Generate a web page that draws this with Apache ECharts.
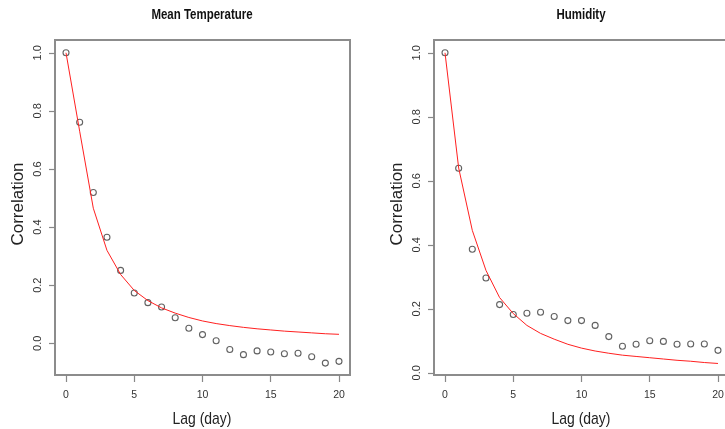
<!DOCTYPE html>
<html>
<head>
<meta charset="utf-8">
<script src="https://cdn.jsdelivr.net/npm/echarts@6/dist/echarts.min.js"></script>
<style>html,body{margin:0;padding:0;background:#fff;}#c{width:725px;height:429px;}</style>
</head>
<body>
<div id="c"></div>
<script>
const lags = [0,1,2,3,4,5,6,7,8,9,10,11,12,13,14,15,16,17,18,19,20];
const tempObserved = [1.0,0.761,0.519,0.365,0.251,0.173,0.140,0.125,0.088,0.052,0.030,0.009,-0.021,-0.039,-0.026,-0.030,-0.036,-0.034,-0.046,-0.068,-0.062];
const tempFitted = [1.0,0.73,0.465,0.32,0.237,0.182,0.147,0.122,0.104,0.089,0.077,0.068,0.061,0.055,0.050,0.046,0.042,0.039,0.036,0.033,0.031];
const humObserved = [1.0,0.639,0.386,0.296,0.213,0.182,0.186,0.189,0.176,0.163,0.163,0.148,0.113,0.083,0.089,0.100,0.098,0.089,0.090,0.090,0.070];
const humFitted = [1.0,0.64,0.445,0.32,0.235,0.185,0.148,0.123,0.105,0.089,0.077,0.068,0.061,0.055,0.051,0.047,0.043,0.039,0.036,0.032,0.029];
const xTicks = [0,5,10,15,20];
const yTicks = [0,0.2,0.4,0.6,0.8,1.0];
const titles = ['Mean Temperature','Humidity'];
const xName = 'Lag (day)';
const yName = 'Correlation';

const pair = (xs, ys) => xs.map((x,i)=>[x, ys[i]]);
const boxColor = '#8c8c8c';
const labelColor = '#333';
const font = 'Liberation Sans, Arial, sans-serif';

function xAxis(gi){
  return {
    type:'value', gridIndex:gi, min:-0.807, max:20.807,
    axisLine:{show:true, onZero:false, lineStyle:{color:boxColor, width:2}},
    axisTick:{show:true, customValues:xTicks, length:7, lineStyle:{color:'#888', width:1.2}},
    axisLabel:{customValues:xTicks, fontSize:10.5, color:labelColor, fontFamily:font, margin:15},
    splitLine:{show:false}
  };
}
function yAxis(gi, mn, mx){
  return {
    type:'value', gridIndex:gi, min:mn, max:mx,
    axisLine:{show:true, onZero:false, lineStyle:{color:boxColor, width:2}},
    axisTick:{show:true, customValues:yTicks, length:6, lineStyle:{color:'#888', width:1.2}},
    axisLabel:{customValues:yTicks, rotate:90, fontSize:11, color:labelColor, fontFamily:font, margin:12,
      formatter:v=>v.toFixed(1)},
    splitLine:{show:false}
  };
}
function scatter(gi, data){
  return {type:'scatter', xAxisIndex:gi, yAxisIndex:gi, data:data, symbol:'circle', symbolSize:6,
    itemStyle:{color:'rgba(0,0,0,0)', borderColor:'#3a3a3a', borderWidth:1.1}, z:2};
}
function line(gi, data){
  return {type:'line', xAxisIndex:gi, yAxisIndex:gi, data:data, showSymbol:false, symbol:'none',
    lineStyle:{color:'#ff2020', width:1}, z:3};
}
function squeezedText(text, cx, cy, size, weight, color){
  return {type:'group', x:cx, y:cy, scaleX:0.82, children:[
    {type:'text', x:0, y:0, style:{text:text, font:weight+' '+size+'px Liberation Sans, Arial, sans-serif', fill:color, align:'center', verticalAlign:'middle'}}
  ]};
}
function verticalText(text, cx, cy, size, color){
  return {type:'text', x:cx, y:cy, rotation:Math.PI/2,
    style:{text:text, font:size+'px Liberation Sans, Arial, sans-serif', fill:color, align:'center', verticalAlign:'middle'}};
}

const chart = echarts.init(document.getElementById('c'), null, {renderer:'canvas'});
chart.setOption({
  animation:false,
  backgroundColor:'#fff',
  graphic:[
    squeezedText(titles[0], 202, 15, 14, 'bold', '#111'),
    squeezedText(titles[1], 581, 15, 14, 'bold', '#111'),
    squeezedText(xName, 202, 419, 17, 'normal', '#222'),
    squeezedText(xName, 581, 419, 17, 'normal', '#222'),
    verticalText(yName, 18, 204, 17, '#222'),
    verticalText(yName, 397, 204, 17, '#222')
  ],
  grid:[
    {left:55, top:40, width:295, height:335, show:true, borderColor:boxColor, borderWidth:2, containLabel:false, outerBoundsMode:'none'},
    {left:434, top:40, width:295, height:335, show:true, borderColor:boxColor, borderWidth:2, containLabel:false, outerBoundsMode:'none'}
  ],
  xAxis:[xAxis(0), xAxis(1)],
  yAxis:[yAxis(0,-0.109,1.044), yAxis(1,-0.007,1.040)],
  series:[
    scatter(0, pair(lags, tempObserved)),
    line(0, pair(lags, tempFitted)),
    scatter(1, pair(lags, humObserved)),
    line(1, pair(lags, humFitted))
  ]
});
</script>
</body>
</html>
